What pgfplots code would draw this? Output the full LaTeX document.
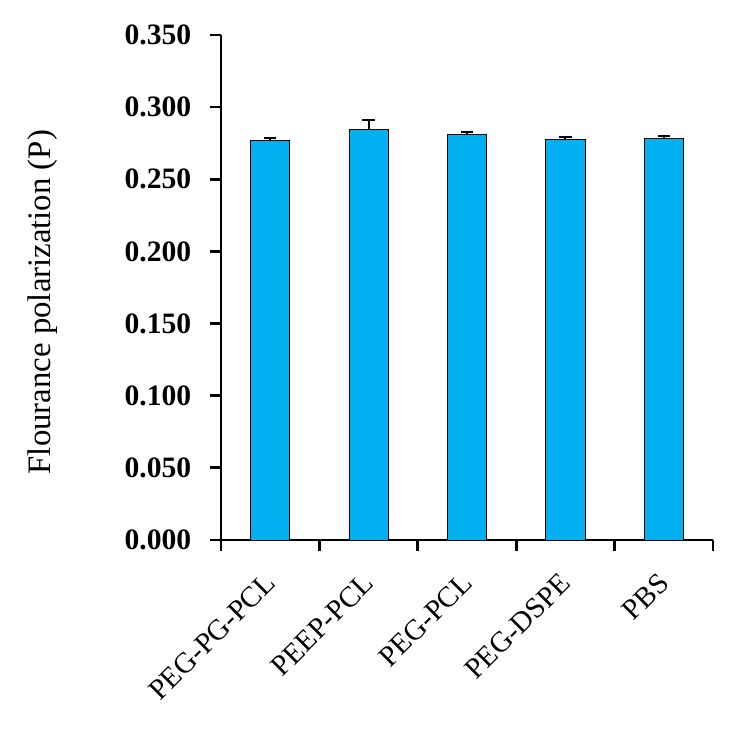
\documentclass[border=0pt]{standalone}
\usepackage{fontspec}
\setmainfont{Liberation Serif}
\usepackage{pgfplots}
\pgfplotsset{compat=1.18}
\definecolor{barblue}{RGB}{0,176,240}

\begin{document}
\begin{tikzpicture}[x=0.7227pt,y=0.7227pt]
\begin{axis}[
  name=ax,
  scale only axis, width=355.6pt, height=365pt,
  xmin=-0.5, xmax=4.5, ymin=0, ymax=0.35,
  axis x line=bottom, axis y line=left,
  axis line style={-, line width=2pt},
  tick align=outside,
  xtick={0,1,2,3,4},
  xticklabels={PEG-PG-PCL,PEEP-PCL,PEG-PCL,PEG-DSPE,PBS},
  major x tick style={draw=none},
  minor xtick={-0.5,0.5,1.5,2.5,3.5,4.5},
  minor tick length=8pt,
  every minor tick/.style={line width=2pt, black},
  xticklabel style={font=\fontsize{21}{24}\selectfont, xshift=-5pt, yshift=-13pt, rotate=45, anchor=north east, inner sep=1pt},
  ytick={0,0.05,...,0.35},
  major tick length=8pt,
  ytick style={line width=2pt, black},
  yticklabel style={font=\fontsize{21.4}{24}\selectfont\bfseries, xshift=-10pt, /pgf/number format/.cd, fixed, fixed zerofill, precision=3, assume math mode=true},
  scaled y ticks=false,
  ylabel={Flourance polarization (P)},
  every axis y label/.style={at={(rel axis cs:-0.362,0.471)}, rotate=90, anchor=center, font=\fontsize{23.7}{28}\selectfont},
  ybar, bar width=0.4,
  clip=false,
]
\addplot[fill=barblue, draw=black, line width=0.6pt,
  error bars/.cd, y dir=plus, y explicit,
  error bar style={line width=1.4pt, black},
  error mark options={rotate=90, mark size=4.5pt, line width=1.4pt, black}]
  coordinates {
  (0,0.2770) +- (0,0.0015)
  (1,0.2846) +- (0,0.0067)
  (2,0.2811) +- (0,0.0019)
  (3,0.2777) +- (0,0.0018)
  (4,0.2784) +- (0,0.0018)
  };
\end{axis}
\path (ax.south west) ++(-221,-204) coordinate (bbl);
\path (ax.south west) ++(523,540) coordinate (btr);
\path (bbl) rectangle (btr);
\end{tikzpicture}
\end{document}
